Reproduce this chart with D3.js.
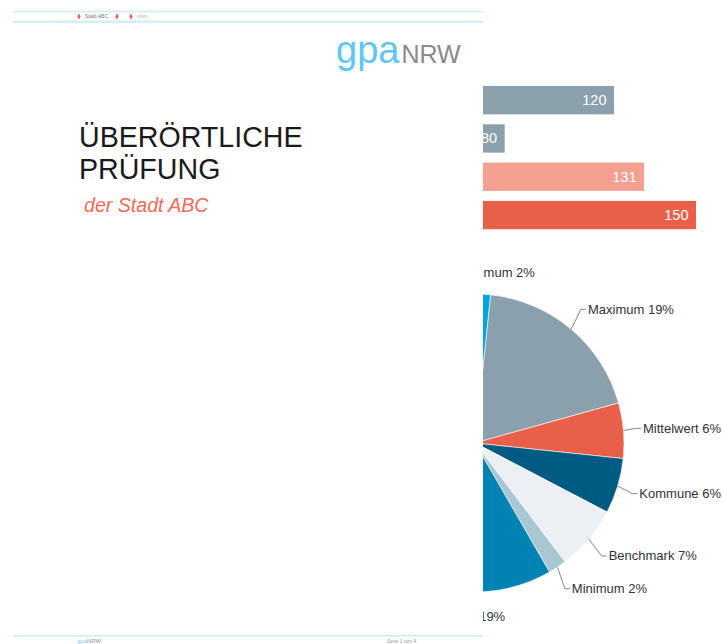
<!DOCTYPE html>
<html><head><meta charset="utf-8">
<script src="https://cdn.jsdelivr.net/npm/d3@7"></script>
<style>html,body{margin:0;padding:0;background:#fff;}svg{display:block;}</style>
</head><body>
<script>
// ---- data ----
const barCategories = ["Maximum", "Minimum", "Mittelwert", "Kommune"];
const barValues = [120, 80, 131, 150];
const barColors = ["#8aa0ab", "#8aa0ab", "#f3a091", "#e8604a"];

const pieNames = ["Maximum", "Mittelwert", "Kommune", "Benchmark", "Minimum",
                  "Maximum", "Mittelwert", "Kommune", "Benchmark", "Minimum"];
const pieValues = [19, 6, 6, 7, 2, 19, 12, 12, 15, 2];
const pieColors = ["#8aa1ad", "#e8604a", "#005b82", "#eceff3", "#a9c6d3",
                   "#0083b3", "#e8604a", "#005b82", "#eceff3", "#00a4e2"];

const titleLines = ["ÜBERÖRTLICHE", "PRÜFUNG"];
const subtitle = "der Stadt ABC";

const W = 722, H = 644;
const svg = d3.select("body").append("svg").attr("width", W).attr("height", H);
const font = "'Liberation Sans', Arial, sans-serif";

// ---- background chart: bars ----
const x = d3.scaleLinear().domain([0, 150]).range([286, 696]);
const y = d3.scaleBand().domain(barCategories).range([81, 234.2]).paddingInner(0.26).paddingOuter(0.13);
const bars = svg.append("g");
bars.selectAll("rect").data(barValues).join("rect")
  .attr("x", x(0)).attr("y", (d, i) => y(barCategories[i]))
  .attr("width", d => x(d) - x(0)).attr("height", y.bandwidth())
  .attr("fill", (d, i) => barColors[i]);
bars.selectAll("text").data(barValues).join("text")
  .attr("x", d => x(d) - 7.5).attr("y", (d, i) => y(barCategories[i]) + y.bandwidth() / 2 + 5)
  .attr("text-anchor", "end").attr("fill", "#fff")
  .style("font-family", font).style("font-size", "14.5px").text(d => d);

// ---- background chart: pie ----
const cx = 475, cy = 443, R = 149, LR = 175;
const start = 6 * Math.PI / 180;
const pie = d3.pie().sort(null).value(d => d).startAngle(start).endAngle(start + 2 * Math.PI);
const arcs = pie(pieValues);
const arc = d3.arc().innerRadius(0).outerRadius(R);
const pg = svg.append("g").attr("transform", `translate(${cx},${cy})`);
pg.selectAll("path").data(arcs).join("path")
  .attr("d", arc).attr("fill", (d, i) => pieColors[i])
  .attr("stroke", "#ffffff").attr("stroke-width", 0.6);

const total = d3.sum(pieValues);
const line = pts => pg.append("polyline").attr("points", pts.map(p => p.join(",")).join(" "))
  .attr("fill", "none").attr("stroke", "#666").attr("stroke-width", 0.8);
arcs.forEach((a, i) => {
  const m = (a.startAngle + a.endAngle) / 2;
  const s = Math.sin(m), c = -Math.cos(m);
  const label = pieNames[i] + " " + Math.round(pieValues[i] / total * 100) + "%";
  const p1 = [R * s, R * c];
  const t = pg.append("text").attr("fill", "#333")
    .style("font-family", font).style("font-size", "13px").text(label);
  const tw = t.node().getComputedTextLength();
  if (Math.abs(s) < 0.2 && c < 0) {        // top
    const p2 = [(R + 11) * s, (R + 11) * c];
    line([p1, p2]);
    t.attr("x", LR * s + 15).attr("y", LR * c + 8.5).attr("text-anchor", "middle");
  } else if (Math.abs(s) < 0.2 && c > 0) { // bottom
    const p2 = [(R + 8) * s, (R + 8) * c];
    line([p1, p2]);
    t.attr("x", LR * s).attr("y", LR * c + 3).attr("text-anchor", "middle");
  } else {
    const dir = s > 0 ? 1 : -1;
    let tx = LR * s, ty = LR * c;
    if (dir > 0) tx = Math.min(tx, W - cx - tw - 1);
    else tx = Math.max(tx, -cx + tw + 1);
    const p3 = [tx - dir * 2, ty], p2 = [tx - dir * 7, ty];
    line([p1, p2, p3]);
    t.attr("x", tx).attr("y", ty + 4.5).attr("text-anchor", dir > 0 ? "start" : "end");
  }
});

// ---- document page on top ----
const page = svg.append("g");
page.append("rect").attr("x", 0).attr("y", 0).attr("width", 483).attr("height", H).attr("fill", "#fff");

// header
page.append("rect").attr("x", 13).attr("y", 10.5).attr("width", 470).attr("height", 2).attr("fill", "#d3eefa");
page.append("rect").attr("x", 13).attr("y", 20.5).attr("width", 470).attr("height", 2.5).attr("fill", "#d3eefa");
[79, 117, 131].forEach(px => {
  page.append("path").attr("d", d3.symbol(d3.symbolDiamond, 10)()).attr("transform", `translate(${px},16.5)`).attr("fill", "#f05a5a");
});
page.append("text").attr("x", 85).attr("y", 18.3).attr("fill", "#777").style("font-family", font).style("font-size", "5px").text("Stadt ABC");
page.append("text").attr("x", 137).attr("y", 18.3).attr("fill", "#aaa").style("font-family", font).style("font-size", "5px").text("xxxx");

// logo
const logo = page.append("text").attr("x", 336).attr("y", 63).style("font-family", font);
logo.append("tspan").attr("fill", "#5cc8ef").style("font-size", "38px").text("gpa");
logo.append("tspan").attr("fill", "#8a8a8a").style("font-size", "25px").attr("dx", 2).text("NRW");

// title
page.selectAll("text.title").data(titleLines).join("text").attr("class", "title")
  .attr("x", 79).attr("y", (d, i) => 147 + i * 32)
  .attr("fill", "#1a1a1a").style("font-family", font).style("font-size", "28.6px").text(d => d);
page.append("text").attr("x", 84).attr("y", 212).attr("fill", "#f26a58")
  .style("font-family", font).style("font-size", "19.6px").style("font-style", "italic").text(subtitle);

// footer
page.append("rect").attr("x", 13).attr("y", 635).attr("width", 470).attr("height", 1.6).attr("fill", "#c9ecf9");
const fl = page.append("text").attr("x", 77).attr("y", 643).style("font-family", font).style("font-size", "6px");
fl.append("tspan").attr("fill", "#7fd0f0").text("gpa");
fl.append("tspan").attr("fill", "#999").text("NRW");
page.append("text").attr("x", 387).attr("y", 643).attr("fill", "#999").style("font-family", font).style("font-size", "5px").text("Seite 1 von 4");
</script>
</body></html>
